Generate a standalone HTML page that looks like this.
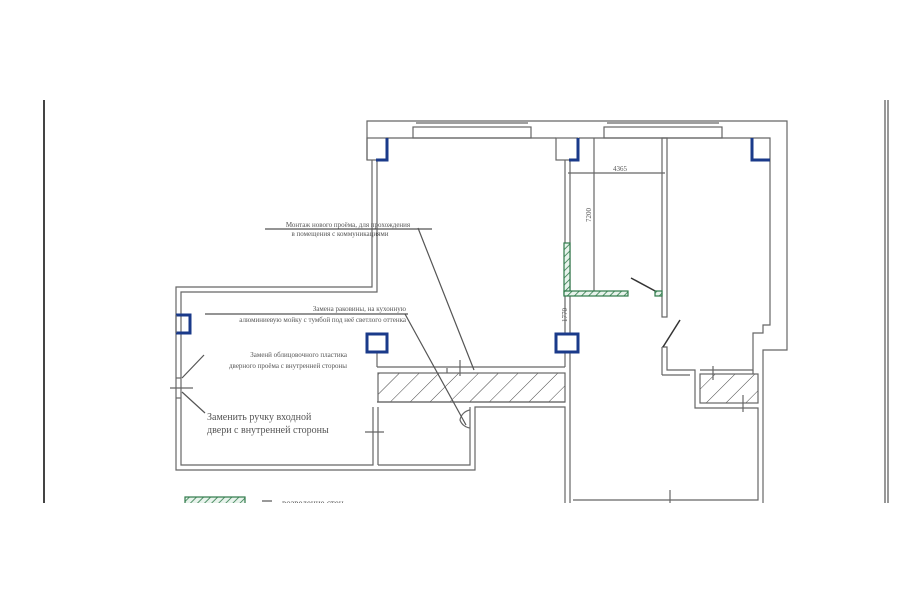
<!DOCTYPE html>
<html><head><meta charset="utf-8"><style>
html,body{margin:0;padding:0;background:#fff;width:900px;height:604px;overflow:hidden}
svg{display:block}
text{font-family:"Liberation Serif",serif;fill:#555}
</style></head><body>
<svg width="900" height="604" viewBox="0 0 900 604" xmlns="http://www.w3.org/2000/svg">
<defs>
<clipPath id="c"><rect x="0" y="100" width="900" height="403"/></clipPath>
<pattern id="h" width="14" height="14" patternUnits="userSpaceOnUse" patternTransform="rotate(45)"><line x1="0" y1="0" x2="0" y2="14" stroke="#444" stroke-width="1"/></pattern>
<pattern id="g" width="5" height="5" patternUnits="userSpaceOnUse" patternTransform="rotate(45)"><rect width="5" height="5" fill="#e8f3ec"/><line x1="0" y1="0" x2="0" y2="5" stroke="#2f7a4a" stroke-width="1.6"/></pattern>
</defs>
<g clip-path="url(#c)" fill="none" stroke="#666" stroke-width="1.2">
<!-- page borders -->
<line x1="44" y1="100" x2="44" y2="503" stroke="#444" stroke-width="2"/>
<line x1="885" y1="100" x2="885" y2="503" stroke="#555"/>
<line x1="888" y1="100" x2="888" y2="503" stroke="#555"/>
<!-- outer top wall -->
<polyline points="367,160 367,121 787,121 787,350 763,350 763,510"/>
<polyline points="387,160 387,138 556,138"/>
<polyline points="579,138 770,138 770,325 763,325 763,333 753,333 753,370 700,370"/>
<!-- windows -->
<rect x="413" y="127" width="118" height="11"/><line x1="416" y1="123" x2="528" y2="123"/>
<rect x="604" y="127" width="118" height="11"/><line x1="607" y1="123" x2="719" y2="123"/>
<!-- top-left column -->
<rect x="367" y="138" width="20" height="22"/>
<!-- left part -->
<polyline points="372,160 372,287 176,287 176,470 475,470 475,407 565,407 565,510"/>
<polyline points="377,160 377,292 181,292 181,465 373,465 373,407"/>
<polyline points="378,465 470,465 470,407"/>
<line x1="378" y1="407" x2="378" y2="465"/>
<!-- beam walls -->
<line x1="377" y1="352" x2="377" y2="367"/>
<line x1="377" y1="367" x2="565" y2="367"/>
<line x1="565" y1="352" x2="565" y2="367"/>
<rect x="378" y="373" width="187" height="29" fill="url(#h)"/>
<line x1="377" y1="402" x2="565" y2="402"/>
<!-- kitchen left wall -->
<line x1="565" y1="160" x2="565" y2="333"/>
<line x1="570" y1="160" x2="570" y2="333"/>
<line x1="570" y1="352" x2="570" y2="503"/>
<rect x="556" y="138" width="22" height="22"/>
<!-- partition -->
<rect x="662" y="138" width="5" height="179"/>
<polyline points="662,347 667,347 667,370 695,370 695,408 758,408 758,500 573,500"/>
<line x1="662" y1="347" x2="662" y2="375"/>
<polyline points="662,375 690,375"/>
<rect x="700" y="374" width="58" height="29" fill="url(#h)"/>
<line x1="753" y1="370" x2="753" y2="374"/>
<!-- door leaves -->
<line x1="631" y1="278" x2="657" y2="292" stroke="#333" stroke-width="1.5"/>
<line x1="663" y1="347" x2="680" y2="320" stroke="#333" stroke-width="1.5"/>
<!-- dimension -->
<line x1="568" y1="173" x2="665" y2="173"/>
<line x1="594" y1="138" x2="594" y2="293"/>
<!-- door ticks -->
<line x1="170" y1="388" x2="193" y2="388"/>
<line x1="176" y1="378" x2="181" y2="378"/><line x1="176" y1="398" x2="181" y2="398"/>
<line x1="365" y1="432" x2="384" y2="432"/>
<line x1="460" y1="360" x2="460" y2="376"/>
<line x1="447" y1="368" x2="447" y2="373"/>
<path d="M470 410 A12 12 0 0 0 460 420 A12 12 0 0 0 470 428"/>
<line x1="670" y1="490" x2="670" y2="503"/>
<line x1="743" y1="395" x2="743" y2="412"/>
<line x1="713" y1="366" x2="713" y2="380"/>
<!-- leaders -->
<line x1="418" y1="228" x2="474" y2="370" stroke="#555"/>
<line x1="405" y1="314" x2="466" y2="425" stroke="#555"/>
<line x1="204" y1="355" x2="182" y2="378" stroke="#555"/>
<line x1="205" y1="413" x2="182" y2="392" stroke="#555"/>
<line x1="265" y1="229" x2="432" y2="229" stroke="#555"/>
<line x1="205" y1="314" x2="408" y2="314" stroke="#555"/>
<!-- blue columns -->
<g stroke="#1a3a8a" stroke-width="3">
<polyline points="387,138 387,160 376,160"/>
<polyline points="578,138 578,160 569,160"/>
<polyline points="752,138 752,160 770,160"/>
<polyline points="176,315 190,315 190,333 176,333"/>
<rect x="367" y="334" width="20" height="18"/>
<rect x="556" y="334" width="22" height="18"/>
</g>
<line x1="176" y1="315" x2="176" y2="333"/>
<!-- green walls -->
<rect x="564" y="243" width="6" height="52" fill="url(#g)" stroke="#2f7a4a"/>
<rect x="564" y="291" width="64" height="5" fill="url(#g)" stroke="#2f7a4a"/>
<rect x="655" y="291" width="7" height="5" fill="url(#g)" stroke="#2f7a4a"/>
<!-- legend -->
<rect x="185" y="497" width="60" height="10" fill="url(#g)" stroke="#2f7a4a"/>
<line x1="262" y1="501" x2="272" y2="501" stroke="#555"/>
</g>
<g clip-path="url(#c)">
<text x="620" y="171" font-size="7" text-anchor="middle">4365</text>
<text transform="translate(591,215) rotate(-90)" font-size="7" text-anchor="middle">7200</text>
<text transform="translate(567,315) rotate(-90)" font-size="7" text-anchor="middle">1770</text>
<text x="348" y="227" font-size="7" text-anchor="middle">Монтаж нового проёма, для прохождения</text>
<text x="340" y="236" font-size="7" text-anchor="middle">в помещения с коммуникациями</text>
<text x="406" y="311" font-size="7" text-anchor="end">Замена раковины, на кухонную</text>
<text x="406" y="322" font-size="7" text-anchor="end">алюминиевую мойку с тумбой под неё светлого оттенка</text>
<text x="347" y="357" font-size="7" text-anchor="end">Заменй облицовочного пластика</text>
<text x="347" y="368" font-size="7" text-anchor="end">дверного проёма с внутренней стороны</text>
<text x="207" y="420" font-size="10">Заменить ручку входной</text>
<text x="207" y="433" font-size="10">двери с внутренней стороны</text>
<text x="282" y="506" font-size="9">возведение стен</text>
</g>
</svg>
</body></html>
